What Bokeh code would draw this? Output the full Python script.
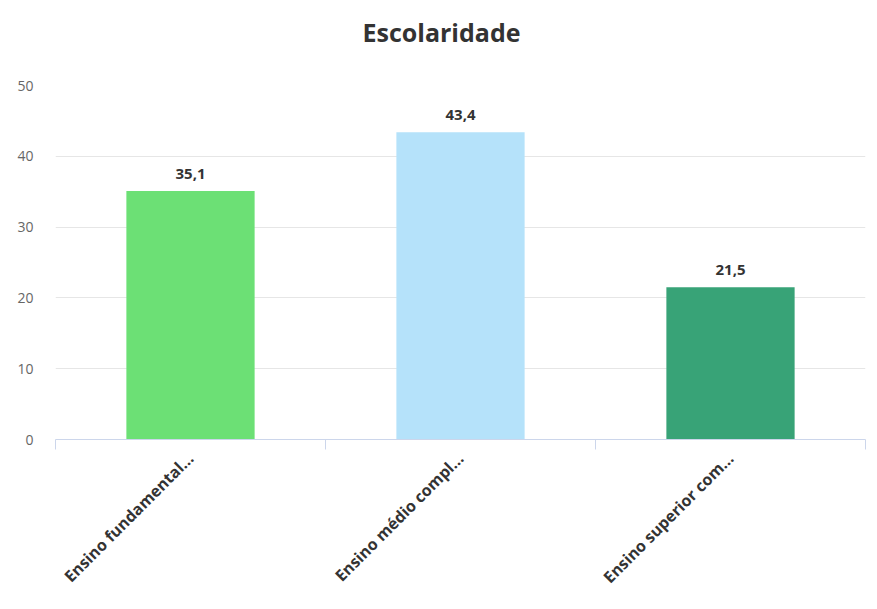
import math
from bokeh.plotting import figure
from bokeh.models import ColumnDataSource, FixedTicker, Range1d
from bokeh.core.properties import value
from bokeh.embed import file_html
from bokeh.resources import INLINE

title_text = "Escolaridade"
categories = ["Ensino fundamental...", "Ensino médio compl...", "Ensino superior com..."]
values = [35.1, 43.4, 21.5]
value_labels = ["35,1", "43,4", "21,5"]
colors = ["#6ce075", "#b5e2fa", "#38a377"]
y_ticks = [0, 10, 20, 30, 40, 50]

xs = [i + 0.5 for i in range(len(categories))]
src = ColumnDataSource(dict(x=xs, top=values, lab=value_labels, color=colors))

p = figure(width=877, height=609, output_backend="svg", toolbar_location=None,
           x_range=Range1d(0, len(categories)), y_range=Range1d(0, 50),
           min_border_left=55, min_border_right=12, min_border_top=85, min_border_bottom=170)

# trailing newline lifts the title above the frame without growing the border
p.title.text = title_text + "\n"
p.title.align = "left"
p.title.offset = 307
p.title.standoff = 6
p.title.text_font = "Open Sans"
p.title.text_font_size = "25px"
p.title.text_font_style = "bold"
p.title.text_color = "#333333"

p.vbar(x="x", top="top", width=0.475, color="color", source=src, line_color=None)
p.text(x="x", y="top", text="lab", source=src, text_align="center", text_baseline="bottom",
       y_offset=-12, text_font=value("Open Sans"), text_font_style="bold",
       text_font_size="15px", text_color="#333333")

p.outline_line_color = None
p.background_fill_color = "white"
p.border_fill_color = "white"

xa = p.xaxis[0]
xa.ticker = FixedTicker(ticks=xs, minor_ticks=list(range(len(categories) + 1)))
xa.major_label_overrides = {x: c for x, c in zip(xs, categories)}
xa.major_label_orientation = math.pi / 4
xa.major_tick_line_color = None
xa.minor_tick_out = 10
xa.minor_tick_in = 0
xa.minor_tick_line_color = "#ccd6eb"
xa.axis_line_color = "#ccd6eb"
xa.major_label_text_font = "Open Sans"
xa.major_label_text_font_style = "bold"
xa.major_label_text_font_size = "16px"
xa.major_label_text_color = "#333333"
xa.major_label_standoff = 6

ya = p.yaxis[0]
ya.ticker = FixedTicker(ticks=y_ticks)
ya.axis_line_color = None
ya.major_tick_line_color = None
ya.minor_tick_line_color = None
ya.major_label_text_font = "Open Sans"
ya.major_label_text_font_size = "14px"
ya.major_label_text_color = "#666666"
ya.major_label_standoff = 16

p.xgrid.grid_line_color = None
p.ygrid.grid_line_color = "#e6e6e6"

open("out.html", "w").write(file_html(p, INLINE))
